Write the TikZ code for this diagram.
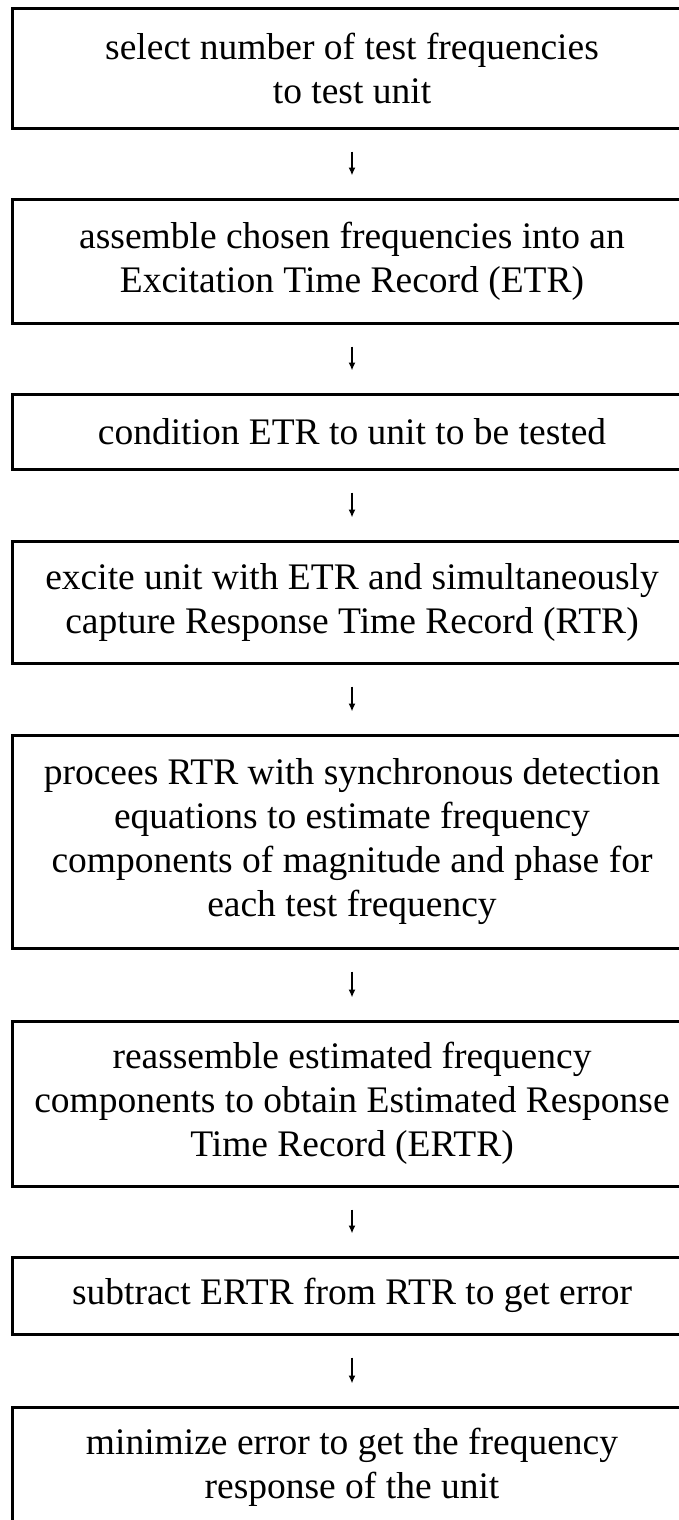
\documentclass[tikz,border=0pt]{standalone}
\usepackage{fontspec}
\setmainfont{Liberation Serif}
\usetikzlibrary{arrows.meta}
\begin{document}
\begin{tikzpicture}[x=1pt,y=1pt,
  stepbox/.style={draw=black, line width=3pt, rectangle, minimum width=680pt,
    align=center, inner sep=0pt, font=\fontsize{37.5}{44}\selectfont},
  flow/.style={-{Latex[length=8pt,width=7pt]}, line width=1.8pt,
    shorten <=22pt, shorten >=22pt}]
\useasboundingbox (0,0) rectangle (679,-1520);
\fill[white] (0,0) rectangle (679,-1520);
\node[stepbox, minimum height=119pt] (b1) at (352,-68.5) {select number of test frequencies\\to test unit};
\node[stepbox, minimum height=124pt] (b2) at (352,-261) {assemble chosen frequencies into an\\Excitation Time Record (ETR)};
\node[stepbox, minimum height=75pt] (b3) at (352,-431.5) {condition ETR to unit to be tested};
\node[stepbox, minimum height=122pt] (b4) at (352,-602) {excite unit with ETR and simultaneously\\capture Response Time Record (RTR)};
\node[stepbox, minimum height=213pt] (b5) at (352,-841.5) {procees RTR with synchronous detection\\equations to estimate frequency\\components of magnitude and phase for\\each test frequency};
\node[stepbox, minimum height=165pt] (b6) at (352,-1103.5) {reassemble estimated frequency\\components to obtain Estimated Response\\Time Record (ERTR)};
\node[stepbox, minimum height=77pt] (b7) at (352,-1295.5) {subtract ERTR from RTR to get error};
\node[stepbox, minimum height=120pt] (b8) at (352,-1467) {minimize error to get the frequency\\response of the unit};
\draw[flow] (b1.south) -- (b2.north);
\draw[flow] (b2.south) -- (b3.north);
\draw[flow] (b3.south) -- (b4.north);
\draw[flow] (b4.south) -- (b5.north);
\draw[flow] (b5.south) -- (b6.north);
\draw[flow] (b6.south) -- (b7.north);
\draw[flow] (b7.south) -- (b8.north);
\end{tikzpicture}
\end{document}
